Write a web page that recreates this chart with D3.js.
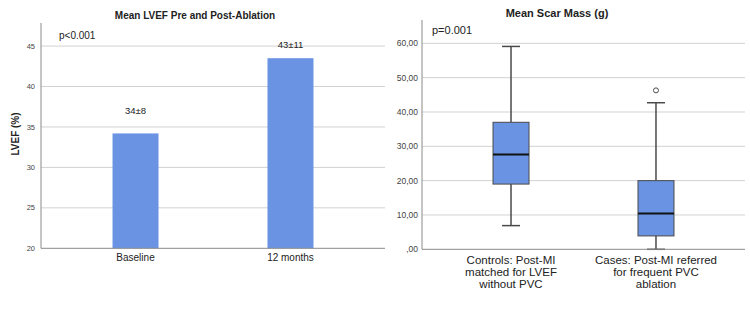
<!DOCTYPE html>
<html lang="en">
  <head>
    <meta charset="UTF-8" />
    <title>Mean LVEF and Scar Mass</title>
    <script src="https://d3js.org/d3.v7.min.js"></script>
    <style>
      body { margin: 0; background: #fff; }
      svg text { font-family: "Liberation Sans", Arial, sans-serif; fill: #222; }
    </style>
  </head>
  <body>
    <svg id="chart" width="750" height="322"></svg>

    <script>
      // left panel: mean LVEF
      const lvefGroups = ["Baseline", "12 months"];
      const lvefMeans = [34.2, 43.5];
      const lvefLabels = ["34±8", "43±11"];
      const lvefTicks = [20, 25, 30, 35, 40, 45];

      // right panel: scar mass box plots
      const scarGroups = [
        ["Controls: Post-MI", "matched for LVEF", "without PVC"],
        ["Cases: Post-MI referred", "for frequent PVC", "ablation"],
      ];
      const scarMin = [6.9, 0];
      const scarQ1 = [19.0, 3.9];
      const scarMedian = [27.6, 10.4];
      const scarQ3 = [37.0, 20.0];
      const scarMax = [59.1, 42.7];
      const scarOutliers = [[], [46.3]];
      const scarTicks = [0, 10, 20, 30, 40, 50, 60];

      const blue = "#6a94e3";
      const gridColor = "#d2d2d2";
      const axisColor = "#8a8a8a";

      const svg = d3.select("#chart");
      svg.append("rect").attr("width", 750).attr("height", 322).attr("fill", "#fff");

      // ---------- left: bar chart ----------
      const yL = d3.scaleLinear().domain([20, 47.85]).range([248.3, 23]);
      const xL = d3.scalePoint().domain(lvefGroups).range([41, 385]).padding(0.61);
      const left = svg.append("g");

      left.selectAll(".grid")
        .data(lvefTicks.filter((t) => t > 20))
        .enter()
        .append("line")
        .attr("x1", 41)
        .attr("x2", 385)
        .attr("y1", (d) => yL(d))
        .attr("y2", (d) => yL(d))
        .attr("stroke", gridColor)
        .attr("stroke-width", 1);

      left.selectAll(".tick-label")
        .data(lvefTicks)
        .enter()
        .append("text")
        .attr("x", 35)
        .attr("y", (d) => yL(d))
        .attr("dy", "0.35em")
        .attr("text-anchor", "end")
        .style("font-size", "7.5px")
        .style("fill", "#444")
        .text((d) => d);

      left.selectAll(".bar")
        .data(lvefMeans)
        .enter()
        .append("rect")
        .attr("x", (d, i) => xL(lvefGroups[i]) - 23)
        .attr("width", 46)
        .attr("y", (d) => yL(d))
        .attr("height", (d) => yL(20) - yL(d))
        .attr("fill", blue);

      const labelGap = [19, 10];
      left.selectAll(".bar-label")
        .data(lvefLabels)
        .enter()
        .append("text")
        .attr("x", (d, i) => xL(lvefGroups[i]))
        .attr("y", (d, i) => yL(lvefMeans[i]) - labelGap[i])
        .attr("text-anchor", "middle")
        .style("font-size", "9.5px")
        .text((d) => d);

      // axes lines
      left.append("line")
        .attr("x1", 41).attr("x2", 41)
        .attr("y1", 23).attr("y2", yL(20))
        .attr("stroke", axisColor);
      left.append("line")
        .attr("x1", 41).attr("x2", 385)
        .attr("y1", yL(20)).attr("y2", yL(20))
        .attr("stroke", axisColor);

      left.selectAll(".x-label")
        .data(lvefGroups)
        .enter()
        .append("text")
        .attr("x", (d) => xL(d))
        .attr("y", 261)
        .attr("text-anchor", "middle")
        .style("font-size", "10px")
        .text((d) => d);

      left.append("text")
        .attr("transform", "translate(19,134) rotate(-90)")
        .attr("text-anchor", "middle")
        .style("font-size", "10px")
        .style("font-weight", "bold")
        .text("LVEF (%)");

      left.append("text")
        .attr("x", 195)
        .attr("y", 19)
        .attr("text-anchor", "middle")
        .style("font-size", "10px")
        .style("font-weight", "bold")
        .text("Mean LVEF Pre and Post-Ablation");

      left.append("text")
        .attr("x", 59)
        .attr("y", 39)
        .style("font-size", "10px")
        .text("p<0.001");

      // ---------- right: box plot ----------
      const yR = d3.scaleLinear().domain([0, 66.8]).range([249.3, 20]);
      const xR = d3.scalePoint().domain([0, 1]).range([422, 745]).padding(0.614);
      const right = svg.append("g");

      right.selectAll(".grid")
        .data(scarTicks.filter((t) => t > 0))
        .enter()
        .append("line")
        .attr("x1", 422)
        .attr("x2", 745)
        .attr("y1", (d) => yR(d))
        .attr("y2", (d) => yR(d))
        .attr("stroke", gridColor);

      right.selectAll(".tick-label")
        .data(scarTicks)
        .enter()
        .append("text")
        .attr("x", 418)
        .attr("y", (d) => yR(d))
        .attr("dy", "0.35em")
        .attr("text-anchor", "end")
        .style("font-size", "8.5px")
        .style("fill", "#444")
        .text((d) => (d === 0 ? ",00" : d3.format(".2f")(d).replace(".", ",")));

      const boxes = right.selectAll(".box")
        .data(scarQ1.map((q, i) => i))
        .enter()
        .append("g");

      const boxStroke = "#4a4a4a";
      // whiskers
      boxes.append("line")
        .attr("x1", (i) => xR(i)).attr("x2", (i) => xR(i))
        .attr("y1", (i) => yR(scarMax[i])).attr("y2", (i) => yR(scarQ3[i]))
        .attr("stroke", boxStroke).attr("stroke-width", 1.5);
      boxes.append("line")
        .attr("x1", (i) => xR(i)).attr("x2", (i) => xR(i))
        .attr("y1", (i) => yR(scarQ1[i])).attr("y2", (i) => yR(scarMin[i]))
        .attr("stroke", boxStroke).attr("stroke-width", 1.5);
      boxes.append("line")
        .attr("x1", (i) => xR(i) - 9).attr("x2", (i) => xR(i) + 9)
        .attr("y1", (i) => yR(scarMax[i])).attr("y2", (i) => yR(scarMax[i]))
        .attr("stroke", boxStroke).attr("stroke-width", 1.5);
      boxes.append("line")
        .attr("x1", (i) => xR(i) - 9).attr("x2", (i) => xR(i) + 9)
        .attr("y1", (i) => yR(scarMin[i])).attr("y2", (i) => yR(scarMin[i]))
        .attr("stroke", boxStroke).attr("stroke-width", 1.5);
      boxes.append("rect")
        .attr("x", (i) => xR(i) - 18)
        .attr("width", 36)
        .attr("y", (i) => yR(scarQ3[i]))
        .attr("height", (i) => yR(scarQ1[i]) - yR(scarQ3[i]))
        .attr("fill", blue)
        .attr("stroke", boxStroke)
        .attr("stroke-width", 1);
      boxes.append("line")
        .attr("x1", (i) => xR(i) - 18).attr("x2", (i) => xR(i) + 18)
        .attr("y1", (i) => yR(scarMedian[i])).attr("y2", (i) => yR(scarMedian[i]))
        .attr("stroke", "#111").attr("stroke-width", 2);
      boxes.selectAll(".outlier")
        .data((i) => scarOutliers[i].map((v) => [i, v]))
        .enter()
        .append("circle")
        .attr("cx", (d) => xR(d[0]))
        .attr("cy", (d) => yR(d[1]))
        .attr("r", 2.5)
        .attr("fill", "#fff")
        .attr("stroke", boxStroke);

      right.append("line")
        .attr("x1", 422).attr("x2", 422)
        .attr("y1", 20).attr("y2", yR(0))
        .attr("stroke", axisColor);
      right.append("line")
        .attr("x1", 422).attr("x2", 745)
        .attr("y1", yR(0)).attr("y2", yR(0))
        .attr("stroke", axisColor);

      // one text per line so the lines stay apart
      scarGroups.forEach((lines, i) => {
        right.selectAll(".x-label-" + i)
          .data(lines)
          .enter()
          .append("text")
          .attr("x", xR(i))
          .attr("y", (d, j) => 264 + j * 12)
          .attr("text-anchor", "middle")
          .style("font-size", "11.5px")
          .text((d) => d);
      });

      right.append("text")
        .attr("x", 557)
        .attr("y", 17)
        .attr("text-anchor", "middle")
        .style("font-size", "11px")
        .style("font-weight", "bold")
        .text("Mean Scar Mass (g)");

      right.append("text")
        .attr("x", 432)
        .attr("y", 34)
        .style("font-size", "11px")
        .text("p=0.001");
    </script>
  </body>
</html>
